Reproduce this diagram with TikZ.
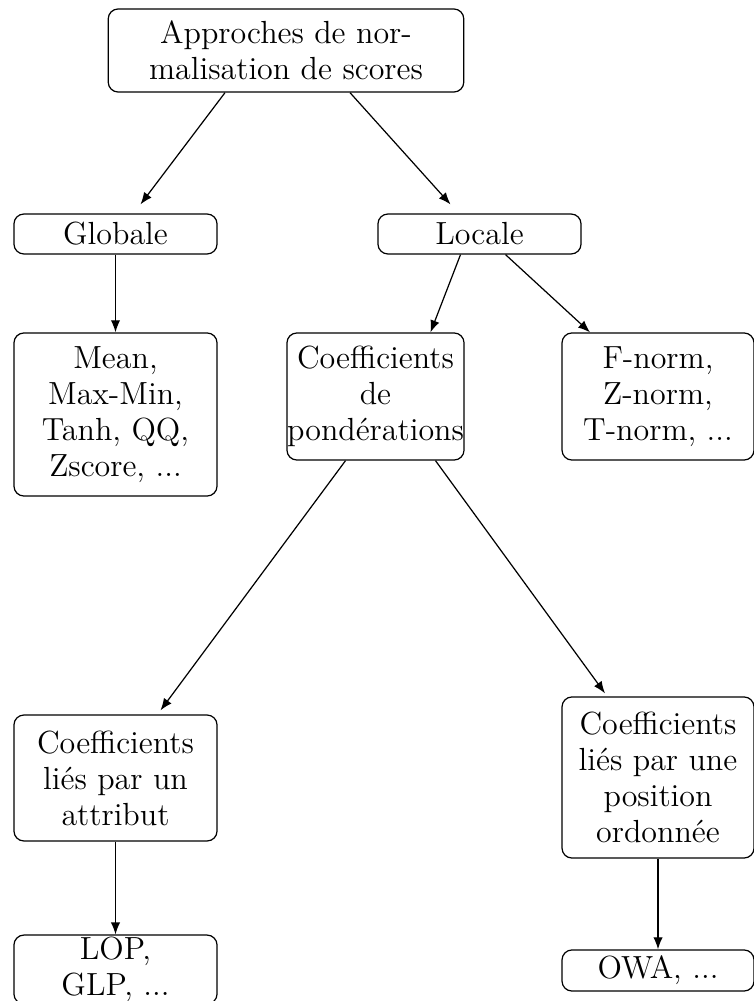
\documentclass[tikz,border=0pt]{standalone}
\usepackage{tikz}
\usetikzlibrary{arrows.meta,calc}

\begin{document}
\begin{tikzpicture}[
  x=0.45pt, y=-0.45pt,
  font=\fontsize{14.4}{16.2}\selectfont,
  >={Latex[length=5.4pt,width=4.2pt]},
  box/.style={
    draw,
    rounded corners=4.5pt,
    align=center,
    inner sep=0pt,
    line width=0.55pt
  },
  arrow/.style={->, line width=0.55pt}
]
  \useasboundingbox (0,0) rectangle (753,1001);
  % root
  \node[box, minimum width=160pt, minimum height=37.4pt] (root) at (286,50.5)
    {Approches de nor-\\malisation de scores};
  % first level
  \node[box, minimum width=91.4pt, minimum height=18pt] (glob) at (115.5,234) {Globale};
  \node[box, minimum width=91.4pt, minimum height=18pt] (loc) at (479.5,234) {Locale};
  % second level
  \node[box, minimum width=91.4pt, minimum height=73.4pt] (globlist) at (115.5,414.5)
    {Mean,\\Max-Min,\\Tanh, QQ,\\Zscore, ...};
  \node[box, minimum width=79.7pt, minimum height=57.2pt] (coef) at (375.5,396.5)
    {Coefficients\\de\\pond\'erations};
  \node[box, minimum width=86.4pt, minimum height=57.2pt] (loclist) at (658,396.5)
    {F-norm,\\Z-norm,\\T-norm, ...};
  % third level
  \node[box, minimum width=91.4pt, minimum height=56.7pt] (attr) at (115.5,778)
    {Coefficients\\li\'es par un\\attribut};
  \node[box, minimum width=86.4pt, minimum height=72.5pt] (pos) at (658,777.5)
    {Coefficients\\li\'es par une\\position\\ordonn\'ee};
  % leaves
  \node[box, minimum width=91.4pt, minimum height=31pt] (attrlist) at (115.5,969.5)
    {LOP,\\GLP, ...};
  \node[box, minimum width=86.4pt, minimum height=18.5pt] (poslist) at (658,970.5)
    {OWA, ...};

  \draw[arrow] ($(root.south)+(-61,0)$) -- ($(glob.north)+(25,-9)$);
  \draw[arrow] ($(root.south)+(64,0)$) -- ($(loc.north)+(-29,-9)$);
  \draw[arrow] (glob) -- (globlist);
  \draw[arrow] ($(loc.south)+(-19,0)$) -- ($(coef.north)+(55,0)$);
  \draw[arrow] ($(loc.south)+(26,0)$) -- ($(loclist.north)+(-68,0)$);
  \draw[arrow] ($(coef.south)+(-30,0)$) -- ($(attr.north)+(45,-4)$);
  \draw[arrow] ($(coef.south)+(60,0)$) -- ($(pos.north)+(-53,-3)$);
  \draw[arrow] (attr) -- (attrlist);
  \draw[arrow] (pos) -- (poslist);
\end{tikzpicture}
\end{document}
